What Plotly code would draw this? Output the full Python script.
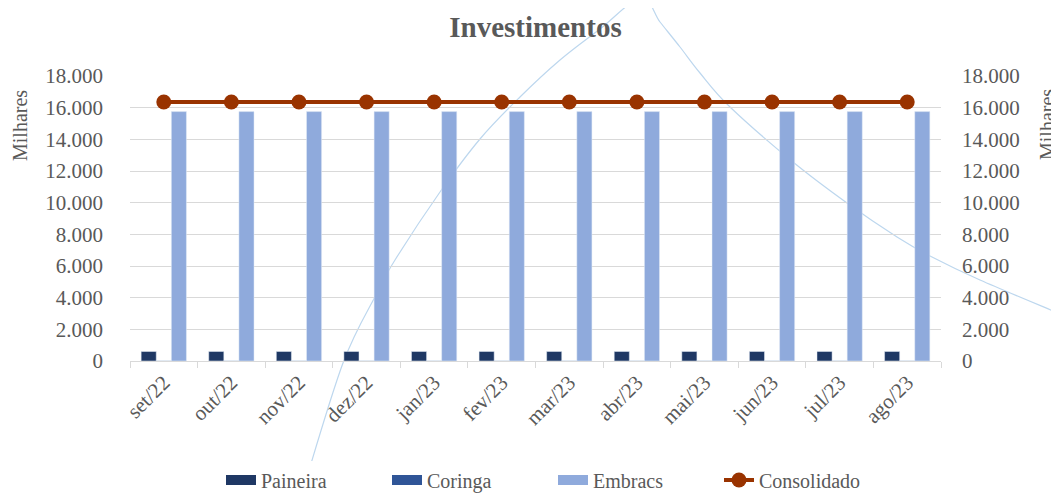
import plotly.graph_objects as go

categories = ["set/22", "out/22", "nov/22", "dez/22", "jan/23", "fev/23",
              "mar/23", "abr/23", "mai/23", "jun/23", "jul/23", "ago/23"]
paineira = [600] * 12
coringa = [10] * 12
embracs = [15750] * 12
consolidado = [16360] * 12
y_ticks = [0, 2000, 4000, 6000, 8000, 10000, 12000, 14000, 16000, 18000]
y_tick_labels = ["0", "2.000", "4.000", "6.000", "8.000", "10.000",
                 "12.000", "14.000", "16.000", "18.000"]

FONT = "Liberation Serif"
GREY = "#595959"
OFF = 8                      # page body margin in the browser
PW, PH = 1059, 493           # page size
W, H = PW - OFF, PH - OFF    # figure size
L, R, T, B = 130 - OFF, PW - 941, 76 - OFF, PH - 361
C_PAI, C_COR, C_EMB, C_CON = "#1F3864", "#2F5597", "#8FAADC", "#993300"

fig = go.Figure()
for name, vals, col in [("Paineira", paineira, C_PAI), ("Coringa", coringa, C_COR),
                        ("Embracs", embracs, C_EMB)]:
    fig.add_bar(name=name, x=categories, y=vals, marker_color=col,
                legendgroup=name, showlegend=False)
    # legend swatch drawn as a wide rectangle like the original
    fig.add_scatter(name=name, x=[None], y=[None], mode="lines",
                    line=dict(color=col, width=10), legendgroup=name,
                    hoverinfo="skip")
fig.add_scatter(name="Consolidado", x=categories, y=consolidado, yaxis="y2",
                mode="lines+markers",
                line=dict(color=C_CON, width=4),
                marker=dict(color=C_CON, size=15))

# decorative background curve (page pixel points -> paper coords)
deco_px = [(300, 500), (303, 490), (343, 363), (377, 293), (395, 260), (440, 192),
           (480, 139), (520, 97), (560, 60), (600, 29), (641, -2), (660, 22),
           (680, 47), (700, 73), (730, 107), (793, 162), (847, 203), (897, 237),
           (930, 256), (980, 280), (1058, 313), (1070, 318)]
pw, ph = W - L - R, H - T - B
def to_paper(x, y):
    return ((x - OFF - L) / pw, (H - B - (y - OFF)) / ph)
pts = [to_paper(x, y) for x, y in deco_px]
path = "M %.5f,%.5f" % pts[0]
for i in range(len(pts) - 1):
    p0 = pts[i - 1] if i > 0 else pts[i]
    p1, p2 = pts[i], pts[i + 1]
    p3 = pts[i + 2] if i + 2 < len(pts) else p2
    c1 = (p1[0] + (p2[0] - p0[0]) / 6, p1[1] + (p2[1] - p0[1]) / 6)
    c2 = (p2[0] - (p3[0] - p1[0]) / 6, p2[1] - (p3[1] - p1[1]) / 6)
    path += " C %.5f,%.5f %.5f,%.5f %.5f,%.5f" % (c1 + c2 + p2)

fig.add_shape(type="path", xref="paper", yref="paper", path=path,
              line=dict(color="#BDD7EE", width=1.2), layer="below")

axis_common = dict(range=[0, 18000], tickvals=y_ticks, ticktext=y_tick_labels,
                   tickfont=dict(family=FONT, size=21, color=GREY),
                   zeroline=False, automargin=False)
fig.update_layout(
    width=W, height=H,
    margin=dict(l=L, r=R, t=T, b=B, autoexpand=False),
    paper_bgcolor="white", plot_bgcolor="white",
    barmode="group", bargap=0.33, bargroupgap=0,
    font=dict(family=FONT, size=20, color=GREY),
    title=dict(text="<b>Investimentos</b>", x=0.5, xref="paper",
               y=1 - (27 - OFF) / H, yref="container", yanchor="middle",
               font=dict(family=FONT, size=29, color=GREY)),
    xaxis=dict(range=[-0.5, len(categories) - 0.5],
               tickangle=-45, tickson="boundaries", ticks="outside", ticklen=6,
               tickcolor="#D9D9D9", showline=True, linecolor="#D9D9D9",
               linewidth=1, showgrid=False, automargin=False,
               tickfont=dict(family=FONT, size=21, color=GREY)),
    yaxis=dict(**axis_common, showgrid=True, gridcolor="#D9D9D9", gridwidth=1,
               ticklabelstandoff=26),
    yaxis2=dict(**axis_common, overlaying="y", side="right", showgrid=False,
                ticklabelstandoff=20),
    legend=dict(orientation="h", x=(221 - OFF) / W, xanchor="left", xref="container",
                y=1 - (480 - OFF) / H, yanchor="middle", yref="container",
                font=dict(family=FONT, size=20, color=GREY),
                traceorder="normal", entrywidth=121, entrywidthmode="pixels",
                itemwidth=30),
    showlegend=True,
)
for xpage in (20, 1047):
    fig.add_annotation(text="Milhares", xref="paper", yref="paper",
                       x=to_paper(xpage, 125)[0], y=to_paper(xpage, 125)[1],
                       xanchor="center", yanchor="middle", showarrow=False,
                       textangle=-90, font=dict(family=FONT, size=20, color=GREY))

fig.write_html("out.html")
